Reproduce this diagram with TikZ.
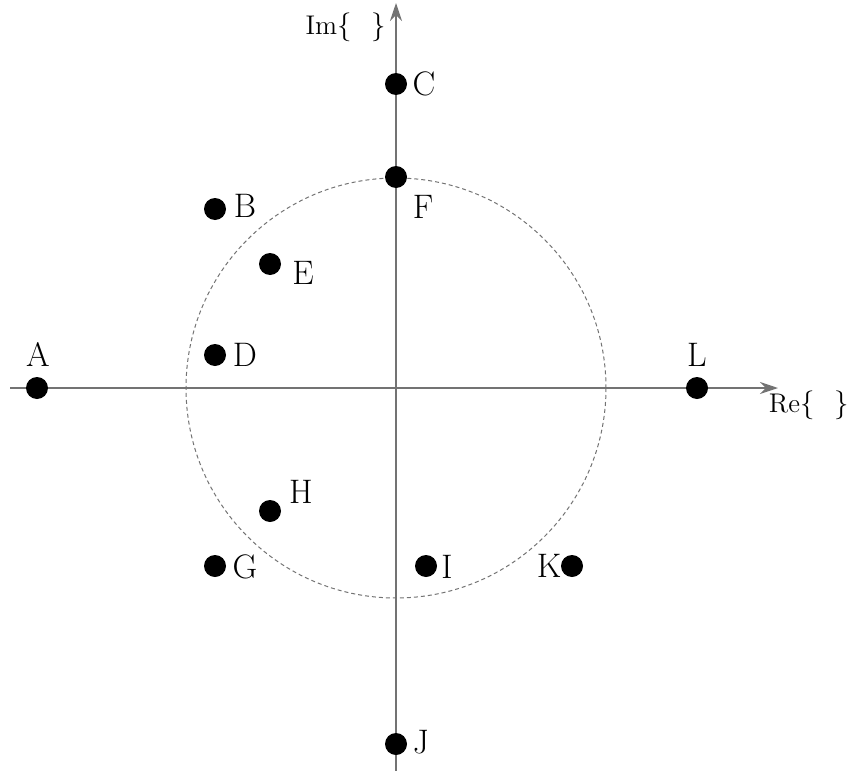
\documentclass[tikz,border=0pt]{standalone}
\usetikzlibrary{arrows.meta}
\begin{document}
\begin{tikzpicture}[x=0.5pt,y=-0.5pt,
  axis/.style={draw=black!55,line width=1pt,-{Stealth[length=9pt,width=6pt]}},
  dot/.style={circle,fill=black,inner sep=0pt,minimum size=11pt},
  lbl/.style={font=\fontsize{17}{20}\selectfont,inner sep=0pt},
  axlbl/.style={font=\fontsize{13.5}{16}\selectfont,inner sep=0pt}]
\useasboundingbox (0,0) rectangle (852,771);
\coordinate (O) at (396,388);
\coordinate (xs) at (10,388);
\coordinate (xe) at (778,388);
\coordinate (ys) at (396,771);
\coordinate (ye) at (396,3);
\draw[black!55,line width=0.5pt,dash pattern=on 2pt off 1.5pt] (O) circle[radius=210];
\draw[axis] (xs) -- (xe);
\draw[axis] (ys) -- (ye);
\node[axlbl] (im) at (346,27) {Im$\{\hspace{0.75em}\}$};
\node[axlbl] (re) at (809,405) {Re$\{\hspace{0.75em}\}$};
\node[dot] (A) at (37,388) {};
\node[dot] (B) at (215,209) {};
\node[dot] (C) at (396,84) {};
\node[dot] (D) at (215,355) {};
\node[dot] (E) at (270,264) {};
\node[dot] (F) at (396,177) {};
\node[dot] (G) at (215,566) {};
\node[dot] (H) at (270,511) {};
\node[dot] (I) at (426,566) {};
\node[dot] (J) at (396,744) {};
\node[dot] (K) at (572,566) {};
\node[dot] (L) at (697,388) {};
\node[lbl] (lA) at (38,354) {A};
\node[lbl] (lB) at (245,206) {B};
\node[lbl] (lC) at (424,84) {C};
\node[lbl] (lD) at (245,355) {D};
\node[lbl] (lE) at (303,273) {E};
\node[lbl] (lF) at (423,207) {F};
\node[lbl] (lG) at (245,567) {G};
\node[lbl] (lH) at (301,492) {H};
\node[lbl] (lI) at (447,567) {I};
\node[lbl] (lJ) at (421,742) {J};
\node[lbl] (lK) at (549,566) {K};
\node[lbl] (lL) at (697,355) {L};
\end{tikzpicture}
\end{document}
